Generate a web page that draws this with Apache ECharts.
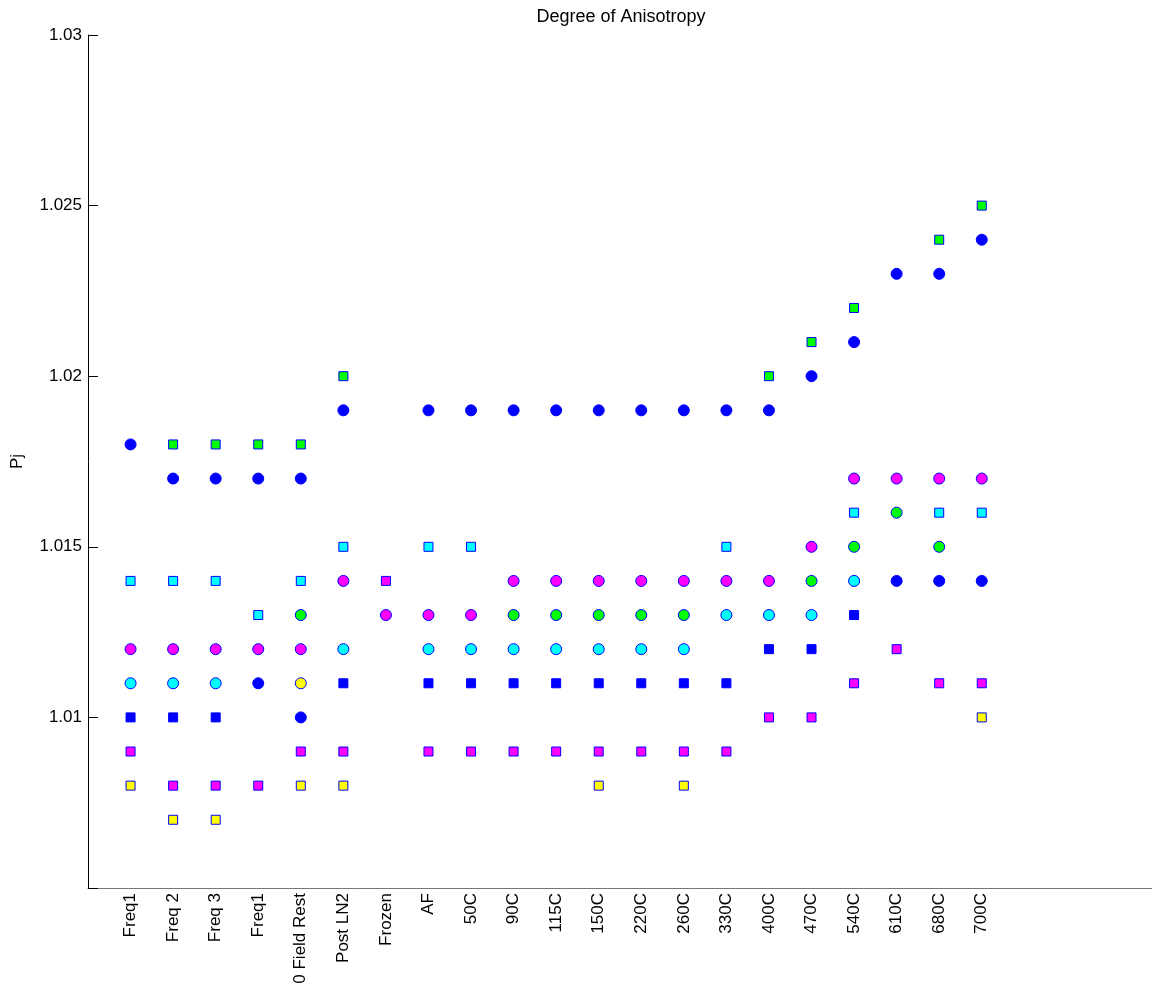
<!DOCTYPE html>
<html>
<head>
<meta charset="utf-8">
<script src="https://cdn.jsdelivr.net/npm/echarts@6/dist/echarts.min.js"></script>
<style>
html,body{margin:0;padding:0;background:#fff;}
#chart{width:1152px;height:993px;}
</style>
</head>
<body>
<div id="chart"></div>
<script>
const categories = ['Freq1','Freq 2','Freq 3','Freq1','0 Field Rest','Post LN2','Frozen','AF','50C','90C','115C','150C','220C','260C','330C','400C','470C','540C','610C','680C','700C'];
const yTicks = [1.005, 1.01, 1.015, 1.02, 1.025, 1.03];

const greenSquare   = [null,1.018,1.018,1.018,1.018,1.020,null,null,null,null,null,null,null,null,null,1.020,1.021,1.022,null,1.024,1.025];
const blueCircle    = [1.018,1.017,1.017,1.017,1.017,1.019,null,1.019,1.019,1.019,1.019,1.019,1.019,1.019,1.019,1.019,1.020,1.021,1.023,1.023,1.024];
const cyanSquare    = [1.014,1.014,1.014,1.013,1.014,1.015,null,1.015,1.015,null,null,null,null,null,1.015,null,null,1.016,null,1.016,1.016];
const magentaCircle = [1.012,1.012,1.012,1.012,1.012,1.014,1.013,1.013,1.013,1.014,1.014,1.014,1.014,1.014,1.014,1.014,1.015,1.017,1.017,1.017,1.017];
const greenCircle   = [null,null,null,null,1.013,null,null,null,null,1.013,1.013,1.013,1.013,1.013,null,null,1.014,1.015,1.016,1.015,null];
const cyanCircle    = [1.011,1.011,1.011,null,null,1.012,null,1.012,1.012,1.012,1.012,1.012,1.012,1.012,1.013,1.013,1.013,1.014,null,null,null];
const blueCircle2   = [null,null,null,1.011,1.010,null,null,null,null,null,null,null,null,null,null,null,null,null,1.014,1.014,1.014];
const yellowCircle  = [null,null,null,null,1.011,null,null,null,null,null,null,null,null,null,null,null,null,null,null,null,null];
const blueSquare    = [1.010,1.010,1.010,null,null,1.011,null,1.011,1.011,1.011,1.011,1.011,1.011,1.011,1.011,1.012,1.012,1.013,null,null,null];
const magentaSquare = [1.009,1.008,1.008,1.008,1.009,1.009,1.014,1.009,1.009,1.009,1.009,1.009,1.009,1.009,1.009,1.010,1.010,1.011,1.012,1.011,1.011];
const yellowSquare  = [1.008,1.007,1.007,null,1.008,1.008,null,null,null,null,null,1.008,null,1.008,null,null,null,null,null,null,1.010];

const FONT = '"Liberation Sans", Arial, sans-serif';
const EDGE = '#0000ff';

function mk(name, vals, shape, color) {
  const data = [];
  vals.forEach((v, i) => { if (v !== null) data.push([i + 1, v]); });
  return {
    name: name,
    type: 'scatter',
    data: data,
    symbol: shape === 'circle' ? 'circle' : 'rect',
    symbolSize: shape === 'circle' ? 11 : 9,
    itemStyle: { color: color, borderColor: EDGE, borderWidth: 1, opacity: 1 },
    emphasis: { disabled: true },
    silent: true,
    animation: false
  };
}

const chart = echarts.init(document.getElementById('chart'), null, { renderer: 'canvas' });
chart.setOption({
  backgroundColor: '#ffffff',
  animation: false,
  title: {
    text: 'Degree of Anisotropy',
    left: 616, top: 3, textAlign: 'center',
    textStyle: { fontFamily: FONT, fontSize: 18, fontWeight: 'normal', color: '#000' }
  },
  grid: { left: 88, top: 35, right: 0, bottom: 105, containLabel: false },
  xAxis: {
    type: 'value', min: 0, max: categories.length + 4, interval: 1,
    axisLine: { show: true, lineStyle: { color: '#777', width: 1 } },
    axisTick: { show: false },
    splitLine: { show: false },
    axisLabel: {
      rotate: 90, margin: 5, fontFamily: FONT, fontSize: 17, color: '#000',
      formatter: v => categories[v - 1] || ''
    }
  },
  yAxis: {
    type: 'value', min: yTicks[0], max: yTicks[yTicks.length - 1], interval: 0.005,
    name: 'Pj', nameLocation: 'middle', nameGap: 62, nameRotate: 90,
    nameTextStyle: { fontFamily: FONT, fontSize: 17, color: '#000' },
    axisLine: { show: true, lineStyle: { color: '#000', width: 1 } },
    axisTick: { show: true, inside: true, length: 10, lineStyle: { color: '#000' } },
    splitLine: { show: false },
    axisLabel: {
      margin: 6, fontFamily: FONT, fontSize: 17, color: '#000',
      formatter: v => { const r = parseFloat(v.toFixed(3)); return r === yTicks[0] ? '' : String(r); }
    }
  },
  series: [
    mk('yellowSquare', yellowSquare, 'square', '#ffff00'),
    mk('magentaSquare', magentaSquare, 'square', '#ff00ff'),
    mk('blueSquare', blueSquare, 'square', '#0000ff'),
    mk('cyanSquare', cyanSquare, 'square', '#00ffff'),
    mk('greenSquare', greenSquare, 'square', '#00ff00'),
    mk('yellowCircle', yellowCircle, 'circle', '#ffff00'),
    mk('cyanCircle', cyanCircle, 'circle', '#00ffff'),
    mk('greenCircle', greenCircle, 'circle', '#00ff00'),
    mk('magentaCircle', magentaCircle, 'circle', '#ff00ff'),
    mk('blueCircle2', blueCircle2, 'circle', '#0000ff'),
    mk('blueCircle', blueCircle, 'circle', '#0000ff')
  ]
});
</script>
</body>
</html>
